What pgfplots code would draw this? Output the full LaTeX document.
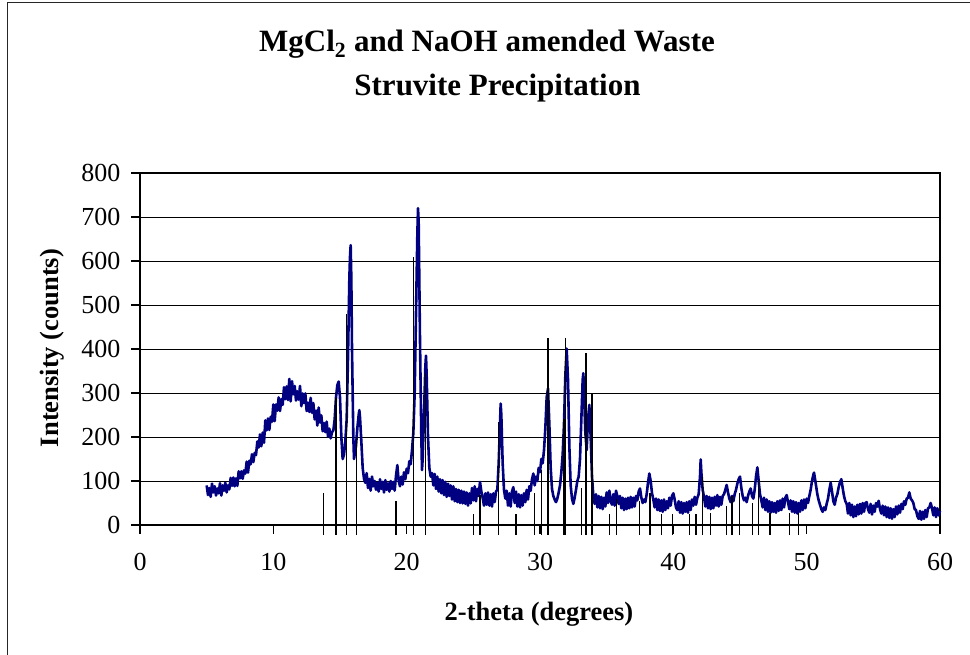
\documentclass[border=0pt]{standalone}
\usepackage{fontspec}
\setmainfont{Liberation Serif}
\usepackage{pgfplots}
\pgfplotsset{compat=1.18}
\definecolor{navy}{RGB}{0,0,128}
\begin{document}
\begin{tikzpicture}
\path[use as bounding box] (0,0) rectangle (970bp,655bp);
\draw[line width=1.6bp, black!85] (7.5bp,-20bp) -- (7.5bp,652.5bp) -- (990bp,652.5bp);
\node[anchor=base, font=\fontsize{31bp}{36bp}\selectfont\bfseries] at (487bp,603.3bp) {MgCl\textsubscript{2} and NaOH amended Waste};
\node[anchor=base, font=\fontsize{31bp}{36bp}\selectfont\bfseries] at (497.5bp,559bp) {Struvite Precipitation};
\node[anchor=base, font=\fontsize{26.5bp}{30bp}\selectfont\bfseries] at (539bp,35bp) {2-theta (degrees)};
\node[anchor=base, rotate=90, font=\fontsize{26.5bp}{30bp}\selectfont\bfseries] at (58bp,307bp) {Intensity (counts)};
\begin{axis}[
  at={(140bp,130bp)}, anchor=south west,
  width=800bp, height=352bp, scale only axis,
  xmin=0, xmax=60, ymin=0, ymax=800,
  xtick={0,10,...,60}, ytick={0,100,...,800},
  tick align=outside, tick pos=left,
  major tick length=9bp,
  every tick/.append style={black, line width=1.2bp},
  ymajorgrids, major grid style={black, line width=0.9bp},
  axis line style={line width=2.4bp},
  tick label style={font=\fontsize{26bp}{30bp}\selectfont},
  yticklabel style={xshift=-7bp},
  xticklabel style={yshift=-16bp},
  /pgf/number format/assume math mode=true,
  clip=false,
]
\addplot[navy, line width=2.6bp, line join=round] coordinates {
(5.0,90) (5.1,68) (5.2,84) (5.3,64) (5.4,94) (5.5,74) (5.6,88) (5.7,67) (5.8,83) (5.9,72)
(6.0,95) (6.1,67) (6.2,90) (6.3,78) (6.4,96) (6.5,74) (6.6,90) (6.7,81) (6.8,107) (6.9,89)
(7.0,108) (7.1,88) (7.2,106) (7.3,89) (7.4,122) (7.5,106) (7.6,122) (7.7,105) (7.8,124) (7.9,117)
(8.0,144) (8.1,119) (8.2,146) (8.3,138) (8.4,161) (8.5,143) (8.6,164) (8.7,159) (8.8,190) (8.9,176)
(9.0,206) (9.1,179) (9.2,210) (9.3,187) (9.4,238) (9.5,215) (9.6,242) (9.7,216) (9.8,246) (9.9,235)
(10.0,274) (10.1,236) (10.2,274) (10.3,260) (10.4,290) (10.5,259) (10.6,286) (10.7,273) (10.8,313) (10.9,286)
(11.0,315) (11.1,284) (11.2,332) (11.3,281) (11.4,327) (11.5,297) (11.6,316) (11.7,283) (11.8,304) (11.9,285)
(12.0,316) (12.1,270) (12.2,299) (12.3,277) (12.4,299) (12.5,259) (12.6,278) (12.7,257) (12.8,289) (12.9,255)
(13.0,277) (13.1,240) (13.2,260) (13.3,226) (13.4,267) (13.5,233) (13.6,249) (13.7,213) (13.8,232) (13.9,211)
(14.0,235) (14.1,201) (14.2,219) (14.3,197) (14.4,211) (14.5,215) (14.6,240) (14.7,290) (14.8,318) (14.9,326)
(15.0,290) (15.1,200) (15.2,150) (15.3,160) (15.4,190) (15.5,240) (15.6,380) (15.7,560) (15.75,610) (15.8,636)
(15.85,560) (15.9,400) (16.0,200) (16.05,150) (16.1,160) (16.2,180) (16.3,220) (16.4,250) (16.45,261) (16.5,245)
(16.6,190) (16.7,130) (16.8,105) (16.9,96)
(17.0,118) (17.1,84) (17.2,105) (17.3,78) (17.4,110) (17.5,88) (17.6,100) (17.7,80) (17.8,96) (17.9,76)
(18.0,104) (18.1,82) (18.2,98) (18.3,74) (18.4,102) (18.5,80) (18.6,95) (18.7,76) (18.8,100) (18.9,82)
(19.0,98) (19.1,78) (19.2,112) (19.3,136) (19.4,100) (19.5,88) (19.6,110) (19.7,92) (19.8,120) (19.9,104)
(20.0,128) (20.1,118) (20.2,145) (20.3,138) (20.4,170) (20.5,209) (20.6,300) (20.7,480) (20.8,660) (20.85,720)
(20.9,690) (21.0,420) (21.1,200) (21.15,125) (21.2,150) (21.3,250) (21.4,360) (21.45,385) (21.5,340) (21.6,200)
(21.7,130) (21.8,110) (21.9,118)
(22.0,90) (22.1,116) (22.2,82) (22.3,110) (22.4,76) (22.5,104) (22.6,72) (22.7,102) (22.8,68) (22.9,98)
(23.0,64) (23.1,94) (23.2,66) (23.3,90) (23.4,58) (23.5,88) (23.6,54) (23.7,82) (23.8,52) (23.9,80)
(24.0,50) (24.1,78) (24.2,49) (24.3,76) (24.4,48) (24.5,74) (24.6,44) (24.7,72) (24.8,49) (24.9,84)
(25.0,56) (25.1,88) (25.2,54) (25.3,82) (25.4,66) (25.5,98) (25.6,76) (25.7,62) (25.8,44) (25.9,72)
(26.0,46) (26.1,74) (26.2,44) (26.3,70) (26.4,42) (26.5,72) (26.6,52) (26.7,76) (26.8,80) (26.9,140)
(27.0,230) (27.05,276) (27.1,250) (27.2,140) (27.3,80) (27.4,60) (27.5,78) (27.6,44) (27.7,72) (27.8,42)
(27.9,76) (28.0,86) (28.1,50) (28.2,76) (28.3,42) (28.4,70) (28.5,40) (28.6,68) (28.7,44) (28.8,72)
(28.9,52) (29.0,80) (29.1,58) (29.2,88) (29.3,78) (29.4,104) (29.5,117) (29.6,90) (29.7,110) (29.8,100)
(29.9,130) (30.0,120) (30.1,150) (30.2,140) (30.3,170) (30.4,220) (30.5,290) (30.6,310) (30.7,230) (30.8,130)
(30.9,82) (31.0,66) (31.1,58) (31.2,52) (31.3,60) (31.4,74) (31.5,90) (31.6,120) (31.7,160) (31.8,230)
(31.9,340) (32.0,401) (32.1,330) (32.2,180) (32.3,90) (32.4,60) (32.5,48) (32.6,62) (32.7,80) (32.8,100)
(32.9,110) (33.0,150) (33.1,240) (33.2,330) (33.25,345) (33.3,300) (33.4,210) (33.5,170) (33.6,240) (33.7,273)
(33.8,200) (33.9,110) (34.0,66) (34.1,48) (34.2,70) (34.3,40) (34.4,66) (34.5,38) (34.6,64) (34.7,36)
(34.8,62) (34.9,42) (35.0,74) (35.1,50) (35.2,78) (35.3,54) (35.4,46) (35.5,70) (35.6,44) (35.7,78)
(35.8,66) (35.9,48) (36.0,66) (36.1,38) (36.2,62) (36.3,34) (36.4,60) (36.5,36) (36.6,62) (36.7,38)
(36.8,64) (36.9,40) (37.0,62) (37.1,42) (37.2,66) (37.3,56) (37.4,76) (37.5,83) (37.6,62) (37.7,50)
(37.8,58) (37.9,52) (38.0,70) (38.1,96) (38.2,117) (38.3,100) (38.4,72) (38.5,58) (38.6,40) (38.7,60)
(38.8,34) (38.9,58) (39.0,32) (39.1,56) (39.2,30) (39.3,58) (39.4,34) (39.5,54) (39.6,38) (39.7,62)
(39.8,44) (39.9,66) (40.0,72) (40.1,58) (40.2,40) (40.3,34) (40.4,54) (40.5,28) (40.6,52) (40.7,26)
(40.8,50) (40.9,30) (41.0,52) (41.1,28) (41.2,54) (41.3,34) (41.4,58) (41.5,44) (41.6,64) (41.7,46)
(41.8,62) (41.9,70) (42.0,110) (42.05,149) (42.1,120) (42.2,80) (42.3,64) (42.4,42) (42.5,66) (42.6,38)
(42.7,64) (42.8,36) (42.9,62) (43.0,38) (43.1,64) (43.2,44) (43.3,68) (43.4,42) (43.5,64) (43.6,46)
(43.7,66) (43.8,70) (43.9,80) (44.0,91) (44.1,74) (44.2,60) (44.3,52) (44.4,66) (44.5,54) (44.6,70)
(44.7,80) (44.8,94) (44.9,104) (45.0,110) (45.1,84) (45.2,66) (45.3,56) (45.4,62) (45.5,52) (45.6,66)
(45.7,76) (45.8,83) (45.9,66) (46.0,60) (46.1,80) (46.2,110) (46.3,131) (46.4,100) (46.5,70) (46.6,56)
(46.7,40) (46.8,62) (46.9,34) (47.0,58) (47.1,30) (47.2,54) (47.3,28) (47.4,52) (47.5,30) (47.6,50)
(47.7,28) (47.8,54) (47.9,32) (48.0,56) (48.1,34) (48.2,60) (48.3,40) (48.4,62) (48.5,68) (48.6,52)
(48.7,36) (48.8,56) (48.9,30) (49.0,54) (49.1,28) (49.2,52) (49.3,26) (49.4,50) (49.5,30) (49.6,56)
(49.7,34) (49.8,58) (49.9,38) (50.0,60) (50.1,50) (50.2,66) (50.3,80) (50.4,100) (50.5,114) (50.55,119)
(50.6,110) (50.7,90) (50.8,70) (50.9,56) (51.0,46) (51.1,36) (51.2,30) (51.3,40) (51.4,34) (51.5,48)
(51.6,60) (51.7,80) (51.8,96) (51.9,76) (52.0,54) (52.1,46) (52.2,62) (52.3,70) (52.4,86) (52.5,98)
(52.6,104) (52.7,84) (52.8,66) (52.9,54) (53.0,48) (53.1,26) (53.2,50) (53.3,22) (53.4,46) (53.5,18)
(53.6,42) (53.7,20) (53.8,46) (53.9,24) (54.0,48) (54.1,26) (54.2,50) (54.3,30) (54.4,50) (54.5,52)
(54.6,36) (54.7,28) (54.8,48) (54.9,24) (55.0,44) (55.1,30) (55.2,50) (55.3,42) (55.4,55) (55.5,36)
(55.6,26) (55.7,44) (55.8,22) (55.9,42) (56.0,18) (56.1,40) (56.2,16) (56.3,38) (56.4,14) (56.5,36)
(56.6,18) (56.7,42) (56.8,24) (56.9,44) (57.0,28) (57.1,48) (57.2,36) (57.3,54) (57.4,46) (57.5,60)
(57.6,62) (57.7,74) (57.8,60) (57.9,56) (58.0,50) (58.1,36) (58.2,34) (58.3,20) (58.4,14) (58.5,32)
(58.6,12) (58.7,30) (58.8,14) (58.9,34) (59.0,18) (59.1,38) (59.2,40) (59.3,50) (59.4,38) (59.5,22)
(59.6,40) (59.7,18) (59.8,38) (59.9,22) (60.0,32)
};
\addplot[black, line width=1.5bp, unbounded coords=jump] coordinates {
(13.75,-22) (13.75,73) (13.75,nan)
(14.7,-22) (14.7,289) (14.7,nan)
(15.5,-22) (15.5,479) (15.5,nan)
(16.25,-22) (16.25,201) (16.25,nan)
(19.2,-22) (19.2,55) (19.2,nan)
(20.5,-22) (20.5,610) (20.5,nan)
(21.4,-22) (21.4,345) (21.4,nan)
(25.0,-22) (25.0,25) (25.0,nan)
(25.5,-22) (25.5,68) (25.5,nan)
(26.9,-22) (26.9,235) (26.9,nan)
(28.2,-22) (28.2,25) (28.2,nan)
(29.6,-22) (29.6,72) (29.6,nan)
(30.1,-22) (30.1,125) (30.1,nan)
(30.6,-22) (30.6,424) (30.6,nan)
(31.8,-22) (31.8,242) (31.8,nan)
(31.9,-22) (31.9,424) (31.9,nan)
(33.1,-22) (33.1,83) (33.1,nan)
(33.45,-22) (33.45,390) (33.45,nan)
(33.9,-22) (33.9,299) (33.9,nan)
(35.2,-22) (35.2,26) (35.2,nan)
(35.75,-22) (35.75,58) (35.75,nan)
(37.45,-22) (37.45,55) (37.45,nan)
(38.25,-22) (38.25,72) (38.25,nan)
(39.1,-22) (39.1,26) (39.1,nan)
(39.95,-22) (39.95,25) (39.95,nan)
(41.2,-22) (41.2,25) (41.2,nan)
(41.7,-22) (41.7,25) (41.7,nan)
(42.2,-22) (42.2,110) (42.2,nan)
(42.8,-22) (42.8,28) (42.8,nan)
(44.0,-22) (44.0,44) (44.0,nan)
(44.4,-22) (44.4,65) (44.4,nan)
(44.95,-22) (44.95,72) (44.95,nan)
(45.95,-22) (45.95,51) (45.95,nan)
(46.4,-22) (46.4,102) (46.4,nan)
(47.25,-22) (47.25,28) (47.25,nan)
(48.7,-22) (48.7,28) (48.7,nan)
(49.4,-22) (49.4,28)
};
\end{axis}
\end{tikzpicture}
\end{document}
